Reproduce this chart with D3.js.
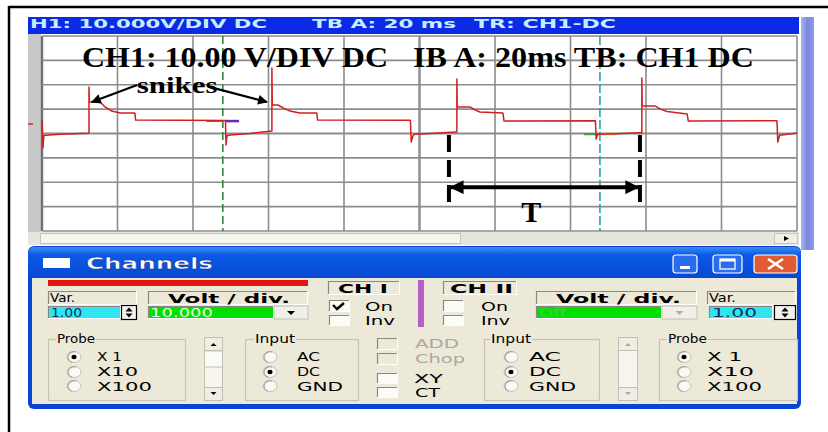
<!DOCTYPE html>
<html><head><meta charset="utf-8">
<script src="https://cdn.jsdelivr.net/npm/d3@7"></script>
<style>html,body{margin:0;padding:0;background:#fff;} svg{display:block;}</style>
</head><body>
<svg id="c" width="828" height="432"></svg>
<script>
// ---------- data ----------
const timeMs = [0,0.25,0.5,1.1,4.8,12.2,12.45,12.45,12.55,15.4,16.7,18.5,20.7,24.6,24.8,48.6,48.75,49.0,49.8,55.1,60.4,60.9,60.9,61.0,62.5,64.0,65.7,68.3,72.8,73.0,97.6,97.8,98.3,98.8,104,109.7,109.9,109.9,110.0,113.4,114.8,116.0,122.1,122.4,146.6,146.8,147.2,152,158.4,158.9,158.9,159.0,162.4,163.8,165.6,170.9,171.2,194.7,194.9,195.4,196.0,200];
const voltV  = [5.3,-5.9,-0.8,-0.7,-0.3,0.1,0.2,19.1,12.9,12.9,10.9,9.2,8.4,8.4,5.5,5.3,-4.7,-0.9,-0.6,0.0,0.9,1.0,26.9,11.7,11.7,10.4,9.2,8.4,8.4,5.5,5.4,-3.5,-0.8,-0.3,0.1,0.6,0.6,22.4,10.9,10.9,9.6,8.8,8.4,5.1,5.2,-2.3,-0.3,-0.1,0.3,0.3,22.8,11.3,11.3,10.0,9.0,8.0,5.1,5.2,-3.5,-0.6,-0.6,0.2];
const gridTimeMs = [0,20,40,60,80,100,120,140,160,180,200];
const gridVolt = [-40,-30,-20,-10,0,10,20,30,40];
const cursorTimes = [47.9, 147.8];
const headerLabels = ["H1: 10.000V/DIV DC", "TB A: 20 ms", "TR: CH1-DC"];
const overlayLabels = ["CH1: 10.00 V/DIV DC", "IB A: 20ms TB: CH1 DC"];
const spikeLabel = "snikes";
const spikeArrowFrom = [[25.2, 19.9], [45.3, 18.7]];
const spikeArrowTo = [[13.2, 12.9], [59.6, 12.9]];
const periodMarksMs = [107.8, 158.4];
const periodLabel = "T";

// ---------- scales ----------
const svg = d3.select("#c");
const x = d3.scaleLinear().domain([0, 200]).range([42, 797]);
const y = d3.scaleLinear().domain([-40, 40]).range([231, 36]);

const defs = svg.append("defs");
const mk = defs.append("marker").attr("id","ah").attr("viewBox","0 0 10 10")
  .attr("refX",9).attr("refY",5).attr("markerWidth",5).attr("markerHeight",4.5)
  .attr("markerUnits","strokeWidth").attr("orient","auto-start-reverse");
mk.append("path").attr("d","M0,0 L10,5 L0,10 z").attr("fill","#000");
const mk2 = defs.append("marker").attr("id","ah2").attr("viewBox","0 0 10 10")
  .attr("refX",9).attr("refY",5).attr("markerWidth",4).attr("markerHeight",3.5)
  .attr("markerUnits","strokeWidth").attr("orient","auto-start-reverse");
mk2.append("path").attr("d","M0,0 L10,5 L0,10 z").attr("fill","#000");
const gTitle = defs.append("linearGradient").attr("id","tb").attr("x1",0).attr("y1",0).attr("x2",0).attr("y2",1);
gTitle.append("stop").attr("offset","0").attr("stop-color","#3a8cf5");
gTitle.append("stop").attr("offset","0.25").attr("stop-color","#0a5ae6");
gTitle.append("stop").attr("offset","1").attr("stop-color","#0848d0");
const gSide = defs.append("linearGradient").attr("id","sd").attr("x1",0).attr("y1",0).attr("x2",1).attr("y2",0);
gSide.append("stop").attr("offset","0").attr("stop-color","#a8b4f0");
gSide.append("stop").attr("offset","0.5").attr("stop-color","#7c88e0");
gSide.append("stop").attr("offset","1").attr("stop-color","#8e9ae8");

// ---------- outer frame ----------
svg.append("line").attr("x1",9).attr("x2",828).attr("y1",7).attr("y2",7).attr("stroke","#000").attr("stroke-width",2.5);
svg.append("line").attr("x1",9).attr("x2",9).attr("y1",6).attr("y2",432).attr("stroke","#000").attr("stroke-width",2.5);

// ---------- scope window ----------
svg.append("rect").attr("x",28).attr("y",17).attr("width",771).attr("height",17).attr("fill","#0a2ae6");
svg.append("rect").attr("x",801).attr("y",17).attr("width",13).attr("height",233).attr("fill","url(#sd)");
const hdrPos = [[30,237],[312,144],[474,142]];
headerLabels.forEach((t,i)=>{
  svg.append("text").attr("x",hdrPos[i][0]).attr("y",28).attr("textLength",hdrPos[i][1])
    .attr("lengthAdjust","spacingAndGlyphs").attr("font-family","DejaVu Sans").attr("font-weight","bold")
    .attr("font-size",11.5).attr("fill","#c6ecff").text(t);
});
svg.append("rect").attr("x",28).attr("y",34).attr("width",13).attr("height",198).attr("fill","#c8c8c8");
svg.append("rect").attr("x",41).attr("y",34).attr("width",758).attr("height",198).attr("fill","#fff");
svg.append("line").attr("x1",28).attr("x2",33).attr("y1",124).attr("y2",124).attr("stroke","#e02020").attr("stroke-width",1.5);

// grid
svg.append("g").selectAll("line").data(gridTimeMs).join("line")
  .attr("x1",d=>x(d)).attr("x2",d=>x(d)).attr("y1",y(40)).attr("y2",y(-40))
  .attr("stroke",d=>d===0?"#707070":"#8c8c8c").attr("stroke-width",d=>(d===0||d===100)?2.4:1.6);
svg.append("g").selectAll("line").data(gridVolt).join("line")
  .attr("x1",x(0)).attr("x2",x(200)).attr("y1",d=>y(d)).attr("y2",d=>y(d))
  .attr("stroke","#8c8c8c").attr("stroke-width",d=>d===0?2.2:1.6);

// cursors
svg.append("line").attr("x1",x(cursorTimes[0])).attr("x2",x(cursorTimes[0])).attr("y1",y(40)).attr("y2",y(-40))
  .attr("stroke","#2f8c3c").attr("stroke-width",1.6).attr("stroke-dasharray","8,4");
svg.append("line").attr("x1",x(cursorTimes[1])).attr("x2",x(cursorTimes[1])).attr("y1",y(40)).attr("y2",y(-40))
  .attr("stroke","#2aa4a4").attr("stroke-width",1.6).attr("stroke-dasharray","9,3");
svg.append("line").attr("x1",x(cursorTimes[0]-4.4)).attr("x2",x(cursorTimes[0])).attr("y1",y(5.1)).attr("y2",y(5.1)).attr("stroke","#2f6a30").attr("stroke-width",1.5);
svg.append("line").attr("x1",x(cursorTimes[0]+0.6)).attr("x2",x(cursorTimes[0]+4.3)).attr("y1",y(5.1)).attr("y2",y(5.1)).attr("stroke","#6a2ab0").attr("stroke-width",2.5);
svg.append("line").attr("x1",x(cursorTimes[1]-4.2)).attr("x2",x(cursorTimes[1])).attr("y1",y(-0.3)).attr("y2",y(-0.3)).attr("stroke","#30a040").attr("stroke-width",2);
svg.append("line").attr("x1",x(cursorTimes[1]+0.2)).attr("x2",x(cursorTimes[1]+4.4)).attr("y1",y(-0.3)).attr("y2",y(-0.3)).attr("stroke","#d8c020").attr("stroke-width",2);

// trace
const pts = timeMs.map((t,i)=>[t, voltV[i]]);
svg.append("path").datum(pts).attr("fill","none").attr("stroke","#d21e1e").attr("stroke-width",1.5)
  .attr("stroke-linejoin","round").attr("d", d3.line().x(d=>x(d[0])).y(d=>y(d[1])));

// horizontal scrollbar
svg.append("rect").attr("x",28).attr("y",232).attr("width",771).attr("height",13).attr("fill","#e6e4dc");
svg.append("rect").attr("x",40.5).attr("y",233.5).attr("width",420).attr("height",10).attr("fill","#f6f5f0").attr("stroke","#c8c4b8");
svg.append("rect").attr("x",774.5).attr("y",233.5).attr("width",23).attr("height",10).attr("fill","#f0efe8").attr("stroke","#c8c4b8");
svg.append("path").attr("d","M784,236 L789,238.5 L784,241 z").attr("fill","#000");

// overlay annotations
const ovPos = [[82,306],[413,341]];
overlayLabels.forEach((t,i)=>{
  svg.append("text").attr("x",ovPos[i][0]).attr("y",67).attr("textLength",ovPos[i][1]).attr("lengthAdjust","spacingAndGlyphs")
    .attr("font-family","Liberation Serif").attr("font-weight","bold").attr("font-size",30).attr("fill","#000").text(t);
});
svg.append("text").attr("x",x(35.8)).attr("y",y(16.6)).attr("text-anchor","middle").attr("textLength",81).attr("lengthAdjust","spacingAndGlyphs")
  .attr("font-family","Liberation Serif").attr("font-weight","bold").attr("font-size",23).attr("fill","#000").text(spikeLabel);
spikeArrowFrom.forEach((f,i)=>{
  const t = spikeArrowTo[i];
  svg.append("line").attr("x1",x(f[0])).attr("y1",y(f[1])).attr("x2",x(t[0])).attr("y2",y(t[1]))
    .attr("stroke","#000").attr("stroke-width",2.2).attr("marker-end","url(#ah)");
});
periodMarksMs.forEach(t=>{
  svg.append("line").attr("x1",x(t)).attr("x2",x(t)).attr("y1",y(-0.6)).attr("y2",y(-30.2))
    .attr("stroke","#000").attr("stroke-width",4).attr("stroke-dasharray","17,8");
});
svg.append("line").attr("x1",x(periodMarksMs[0])+2).attr("x2",x(periodMarksMs[1])-2).attr("y1",y(-22)).attr("y2",y(-22))
  .attr("stroke","#000").attr("stroke-width",4).attr("marker-start","url(#ah2)").attr("marker-end","url(#ah2)");
svg.append("text").attr("x",x((periodMarksMs[0]+periodMarksMs[1])/2 - 3.5)).attr("y",y(-36.3)).attr("text-anchor","middle")
  .attr("font-family","Liberation Serif").attr("font-weight","bold").attr("font-size",30).attr("fill","#000").text(periodLabel);

// ---------- Channels window ----------
const panel = "#ece9d8";
svg.append("rect").attr("x",28).attr("y",246).attr("width",773).attr("height",163).attr("rx",6).attr("fill","#0a44d4");
svg.append("rect").attr("x",28).attr("y",247).attr("width",773).attr("height",32).attr("rx",6).attr("fill","url(#tb)");
svg.append("rect").attr("x",32).attr("y",278).attr("width",765).attr("height",126).attr("fill",panel);
svg.append("rect").attr("x",43).attr("y",258).attr("width",27).attr("height",10).attr("fill","#fff");
svg.append("text").attr("x",86).attr("y",269).attr("textLength",127).attr("lengthAdjust","spacingAndGlyphs")
  .attr("font-family","DejaVu Sans").attr("font-weight","bold").attr("font-size",15).attr("fill","#fff")
  .attr("stroke","#0a2a80").attr("stroke-width",0.4).text("Channels");
function tbtn(x0,w,fill){
  svg.append("rect").attr("x",x0).attr("y",255).attr("width",w).attr("height",18).attr("rx",3)
    .attr("fill",fill).attr("stroke","#fff").attr("stroke-width",1.2);
}
tbtn(673,24,"#2a6cf0"); tbtn(713,29,"#2a6cf0"); tbtn(754,43,"#e05a34");
svg.append("rect").attr("x",680).attr("y",266).attr("width",10).attr("height",3).attr("fill","#fff");
svg.append("rect").attr("x",720).attr("y",259).attr("width",15).attr("height",10).attr("fill","none").attr("stroke","#fff").attr("stroke-width",1.3);
svg.append("rect").attr("x",720).attr("y",259).attr("width",15).attr("height",2.5).attr("fill","#fff");
svg.append("path").attr("d","M768,259 L783,269 M783,259 L768,269").attr("stroke","#fff").attr("stroke-width",2.6);

function sunken(x0,y0,w,h,fill){
  svg.append("rect").attr("x",x0).attr("y",y0).attr("width",w).attr("height",h).attr("fill",fill);
  svg.append("path").attr("d",`M${x0+0.5},${y0+h} L${x0+0.5},${y0+0.5} L${x0+w},${y0+0.5}`).attr("fill","none").attr("stroke","#8a887e").attr("stroke-width",1.2);
  svg.append("path").attr("d",`M${x0+w-0.5},${y0} L${x0+w-0.5},${y0+h-0.5} L${x0},${y0+h-0.5}`).attr("fill","none").attr("stroke","#fff").attr("stroke-width",1);
}
function txt(s,x0,y0,len,opts={}){
  const t = svg.append("text").attr("x",x0).attr("y",y0).attr("font-family","DejaVu Sans")
    .attr("font-size",opts.size||12).attr("font-weight",opts.bold?"bold":"normal").attr("fill",opts.fill||"#000").text(s);
  if(len) t.attr("textLength",len).attr("lengthAdjust","spacingAndGlyphs");
  return t;
}
function spinner(x0,y0,w,h){
  svg.append("rect").attr("x",x0+0.5).attr("y",y0+0.5).attr("width",w).attr("height",h).attr("fill","#f2f1ec").attr("stroke","#000").attr("stroke-width",1.2);
  const cx = x0+w/2+0.5, cy = y0+h/2+0.5;
  svg.append("path").attr("d",`M${cx-3.5},${cy-1} L${cx},${cy-5} L${cx+3.5},${cy-1} z M${cx-3.5},${cy+1} L${cx},${cy+5} L${cx+3.5},${cy+1} z`).attr("fill","#000");
}
function dropBtn(x0,y0,w,h,col){
  svg.append("rect").attr("x",x0).attr("y",y0).attr("width",w).attr("height",h).attr("fill","#f0efe8").attr("stroke","#c4c0b0");
  const cx = x0+w/2, cy=y0+h/2;
  svg.append("path").attr("d",`M${cx-4},${cy-1.5} L${cx+4},${cy-1.5} L${cx},${cy+2.5} z`).attr("fill",col);
}
function checkbox(x0,y0,w,h,checked,disabled){
  sunken(x0,y0,w,h, disabled?"#ece9d8":"#fbfbf8");
  if(checked) svg.append("path").attr("d",`M${x0+4},${y0+5} L${x0+8},${y0+9} L${x0+15},${y0+3}`).attr("fill","none").attr("stroke","#000").attr("stroke-width",2.4);
}
function group(x0,y0,w,h,label,lx,lw){
  svg.append("rect").attr("x",x0+0.5).attr("y",y0+0.5).attr("width",w).attr("height",h).attr("fill","none").attr("stroke","#c8c4b4").attr("stroke-width",1.2);
  svg.append("rect").attr("x",lx-1).attr("y",y0-5).attr("width",lw+2).attr("height",10).attr("fill",panel);
  txt(label,lx,y0+4,lw);
}
function radio(cx,cy,sel){
  svg.append("ellipse").attr("cx",cx).attr("cy",cy).attr("rx",7).attr("ry",5.5).attr("fill","#f9f9f6").attr("stroke","#c4c2b8").attr("stroke-width",1);
  svg.append("path").attr("d",`M${cx+2},${cy-5.2} A7,5.5 0 0 0 ${cx-2},${cy+5.2}`).attr("fill","none").attr("stroke","#a8a69c").attr("stroke-width",1.2);
  if(sel) svg.append("ellipse").attr("cx",cx).attr("cy",cy).attr("rx",2.6).attr("ry",2.2).attr("fill","#000");
}
function vscroll(x0,y0,w,h,disabled){
  svg.append("rect").attr("x",x0+0.5).attr("y",y0+0.5).attr("width",w).attr("height",h).attr("fill","#f6f5f0").attr("stroke","#c4c0b0");
  svg.append("rect").attr("x",x0+0.5).attr("y",y0+0.5).attr("width",w).attr("height",13).attr("fill","#efede6").attr("stroke","#c4c0b0");
  svg.append("rect").attr("x",x0+0.5).attr("y",y0+h-12.5).attr("width",w).attr("height",13).attr("fill","#efede6").attr("stroke","#c4c0b0");
  const col = disabled?"#a8a8a0":"#000", cx = x0+w/2+0.5;
  svg.append("path").attr("d",`M${cx-3},${y0+9} L${cx+3},${y0+9} L${cx},${y0+6} z`).attr("fill",col);
  svg.append("path").attr("d",`M${cx-3},${y0+h-8} L${cx+3},${y0+h-8} L${cx},${y0+h-5} z`).attr("fill",col);
  if(!disabled) svg.append("rect").attr("x",x0+0.5).attr("y",y0+14).attr("width",w).attr("height",16).attr("fill","#fbfbf8").attr("stroke","#c4c0b0");
}

// CH I controls
svg.append("rect").attr("x",48).attr("y",280).attr("width",260).attr("height",6).attr("fill","#e41414");
sunken(48,291,89,14,panel); txt("Var.",50,302,25);
sunken(48,306,73,13,"#2ee6f0"); txt("1.00",51,317,31,{fill:"#1a2a60"});
spinner(121,305,15,14);
sunken(148,291,160,14,panel); txt("Volt / div.",168,303,122,{bold:true});
sunken(148,306,126,13,"#00e000"); txt("10.000",150,317,63,{fill:"#e6ffe6"});
dropBtn(274,306,34,13,"#000");
sunken(328,281,72,14,panel); txt("CH I",338,293,50,{bold:true});
checkbox(329,300,21,12,true,false); txt("On",365,311,28);
checkbox(329,315,21,11,false,false); txt("Inv",365,325,30);
svg.append("rect").attr("x",418).attr("y",280).attr("width",6).attr("height",47).attr("fill","#b460c4");
// CH II controls
sunken(443,281,74,14,panel); txt("CH II",450,293,63,{bold:true});
checkbox(443,300,21,12,false,false); txt("On",481,311,27);
checkbox(443,315,21,11,false,false); txt("Inv",481,325,29);
sunken(536,291,161,14,panel); txt("Volt / div.",556,303,125,{bold:true});
sunken(536,306,126,13,"#00e000"); txt("Off",539,317,27,{fill:"#3ad03a"});
dropBtn(662,306,35,13,"#b0b0a8");
sunken(707,291,89,14,panel); txt("Var.",709,302,27);
sunken(709,306,64,13,"#2ee6f0"); txt("1.00",712,317,45,{fill:"#1a2a60"});
spinner(774,305,21,14);

// mode checkboxes
checkbox(377,338,21,12,false,true); txt("ADD",415,348,44,{fill:"#aaa8a0"});
checkbox(377,353,21,12,false,true); txt("Chop",415,363,50,{fill:"#aaa8a0"});
checkbox(377,373,21,11,false,false); txt("XY",414,383,29);
checkbox(377,387,21,11,false,false); txt("CT",415,397,25);

// groups
group(48,339,137,61,"Probe",57,38);
radio(74,357,true); txt("X 1",97,361,25);
radio(74,372,false); txt("X10",97,376,41);
radio(74,386,false); txt("X100",97,391,55);
vscroll(204,337,18,63,false);
group(245,339,113,61,"Input",255,40);
radio(270,357,false); txt("AC",297,361,23);
radio(270,372,true); txt("DC",297,376,23);
radio(270,386,false); txt("GND",297,391,46);
group(484,339,115,61,"Input",491,40);
radio(511,357,false); txt("AC",529,361,32);
radio(511,372,true); txt("DC",529,376,32);
radio(511,386,false); txt("GND",529,391,47);
vscroll(618,337,19,63,true);
group(659,339,138,61,"Probe",668,39);
radio(684,357,true); txt("X 1",707,361,35);
radio(684,372,false); txt("X10",707,376,47);
radio(684,386,false); txt("X100",707,391,55);
</script>
</body></html>
